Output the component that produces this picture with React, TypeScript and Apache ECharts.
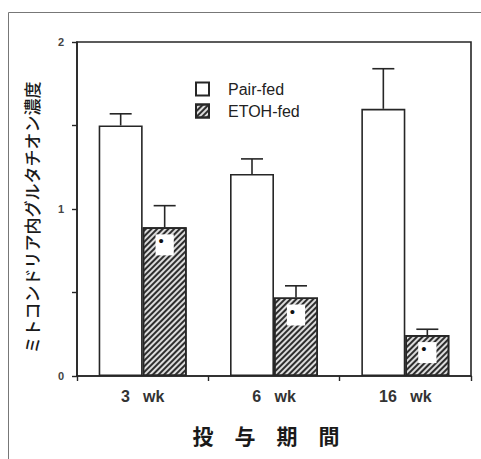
import React, { useEffect, useRef } from "react";
import * as echarts from "echarts";

// Mitochondrial glutathione by feeding period
const categories = ["3   wk", "6   wk", "16   wk"];
const pairFed = [1.5, 1.21, 1.6];
const pairFedErr = [1.57, 1.3, 1.84];
const etohFed = [0.89, 0.47, 0.245];
const etohFedErr = [1.02, 0.54, 0.28];
const yTicks = [0, 0.5, 1, 1.5, 2];

const BAR_FRAC = 0.335;
const INK = "#262626";

const hatch = {
  symbol: "rect",
  symbolSize: 1,
  dashArrayX: [[1, 0]],
  dashArrayY: [1.8, 1.6],
  rotation: -Math.PI / 4,
  color: "#2e2e2e",
  backgroundColor: "#dcdcdc",
};

function errorSeries(name: string, tops: number[], highs: number[], side: number) {
  return {
    type: "custom",
    name: name + "-err",
    silent: true,
    z: 1,
    data: tops.map((v, i) => [i, v, highs[i]]),
    renderItem: (params: any, api: any) => {
      const idx = api.value(0);
      const band = api.size([1, 0])[0];
      const barW = band * BAR_FRAC;
      const cx = api.coord([idx, 0])[0] + side * barW * 0.5;
      const yTop = api.coord([idx, api.value(1)])[1];
      const yHigh = api.coord([idx, api.value(2)])[1];
      const cap = 11;
      const style = { stroke: INK, lineWidth: 1.6 };
      return {
        type: "group",
        children: [
          { type: "line", shape: { x1: cx, y1: yTop, x2: cx, y2: yHigh }, style },
          { type: "line", shape: { x1: cx - cap, y1: yHigh, x2: cx + cap, y2: yHigh }, style },
        ],
      };
    },
  };
}

export default function App() {
  const ref = useRef<HTMLDivElement>(null);

  useEffect(() => {
    if (!ref.current) return;
    const chart = echarts.init(ref.current, undefined, { renderer: "svg" });
    chart.setOption({
      animation: false,
      backgroundColor: "#fff",
      grid: {
        left: 77,
        right: 10,
        top: 42,
        bottom: 83,
        show: true,
        borderColor: INK,
        borderWidth: 1.6,
        backgroundColor: "transparent",
      },
      legend: {
        orient: "vertical",
        left: 190,
        top: 76,
        itemWidth: 13,
        itemHeight: 13,
        itemGap: 6,
        icon: "rect",
        data: ["Pair-fed", "ETOH-fed"],
        textStyle: {
          fontFamily: "Liberation Sans, Arial, sans-serif",
          fontSize: 16,
          color: "#222",
          padding: [0, 0, 0, 14],
        },
      },
      xAxis: {
        type: "category",
        data: categories,
        boundaryGap: true,
        axisLine: { lineStyle: { color: INK, width: 1.6 } },
        axisTick: { show: true, length: 5, lineStyle: { color: INK, width: 1.4 } },
        axisLabel: {
          margin: 12,
          fontFamily: "Liberation Sans, Arial, sans-serif",
          fontSize: 16,
          fontWeight: "bold",
          color: "#333",
        },
        name: "投　与　期　間",
        nameLocation: "middle",
        nameGap: 48,
        nameTextStyle: {
          fontFamily: "Noto Sans CJK JP",
          fontSize: 21,
          fontWeight: "bold",
          color: "#1a1a1a",
          padding: [0, 16, 0, 0],
        },
      },
      yAxis: {
        type: "value",
        min: yTicks[0],
        max: yTicks[yTicks.length - 1],
        interval: 0.5,
        splitLine: { show: false },
        axisLine: { show: true, lineStyle: { color: INK, width: 1.6 } },
        axisTick: { show: true, length: 5, lineStyle: { color: INK, width: 1.4 } },
        axisLabel: {
          margin: 13,
          fontFamily: "Liberation Sans, Arial, sans-serif",
          fontSize: 11,
          fontWeight: "bold",
          color: "#444",
          formatter: (v: number) => (v % 1 === 0 ? String(v) : ""),
        },
        name: "ミトコンドリア内グルタチオン濃度",
        nameLocation: "middle",
        nameRotate: 90,
        nameGap: 37,
        nameTextStyle: {
          fontFamily: "Noto Sans CJK JP",
          fontSize: 17,
          fontWeight: 500,
          color: "#1a1a1a",
          padding: [0, 17, 0, 0],
        },
      },
      series: [
        {
          type: "bar",
          name: "Pair-fed",
          data: pairFed,
          barWidth: (BAR_FRAC * 100).toFixed(1) + "%",
          barGap: "0%",
          z: 2,
          itemStyle: { color: "#fff", borderColor: INK, borderWidth: 1.6 },
        },
        {
          type: "bar",
          name: "ETOH-fed",
          data: etohFed,
          barWidth: (BAR_FRAC * 100).toFixed(1) + "%",
          barGap: "0%",
          z: 2,
          itemStyle: { color: "#dcdcdc", borderColor: INK, borderWidth: 1.6, decal: hatch },
          label: {
            show: true,
            position: "insideTop",
            distance: 7,
            formatter: "•",
            fontSize: 15,
            lineHeight: 9,
            color: "#111",
            backgroundColor: "#fff",
            padding: [2, 10, 10, 3],
          },
        },
        errorSeries("Pair-fed", pairFed, pairFedErr, -1),
        errorSeries("ETOH-fed", etohFed, etohFedErr, 1),
      ],
      graphic: [
        {
          type: "line",
          silent: true,
          shape: { x1: 8.5, y1: 12.5, x2: 481, y2: 12.5 },
          style: { stroke: "#777", lineWidth: 1 },
        },
        {
          type: "line",
          silent: true,
          shape: { x1: 8.5, y1: 12.5, x2: 8.5, y2: 459 },
          style: { stroke: "#777", lineWidth: 1 },
        },
      ],
    });
    return () => chart.dispose();
  }, []);

  return (
    <div
      ref={ref}
      style={{ position: "fixed", left: 0, top: 0, width: 481, height: 459 }}
    />
  );
}
